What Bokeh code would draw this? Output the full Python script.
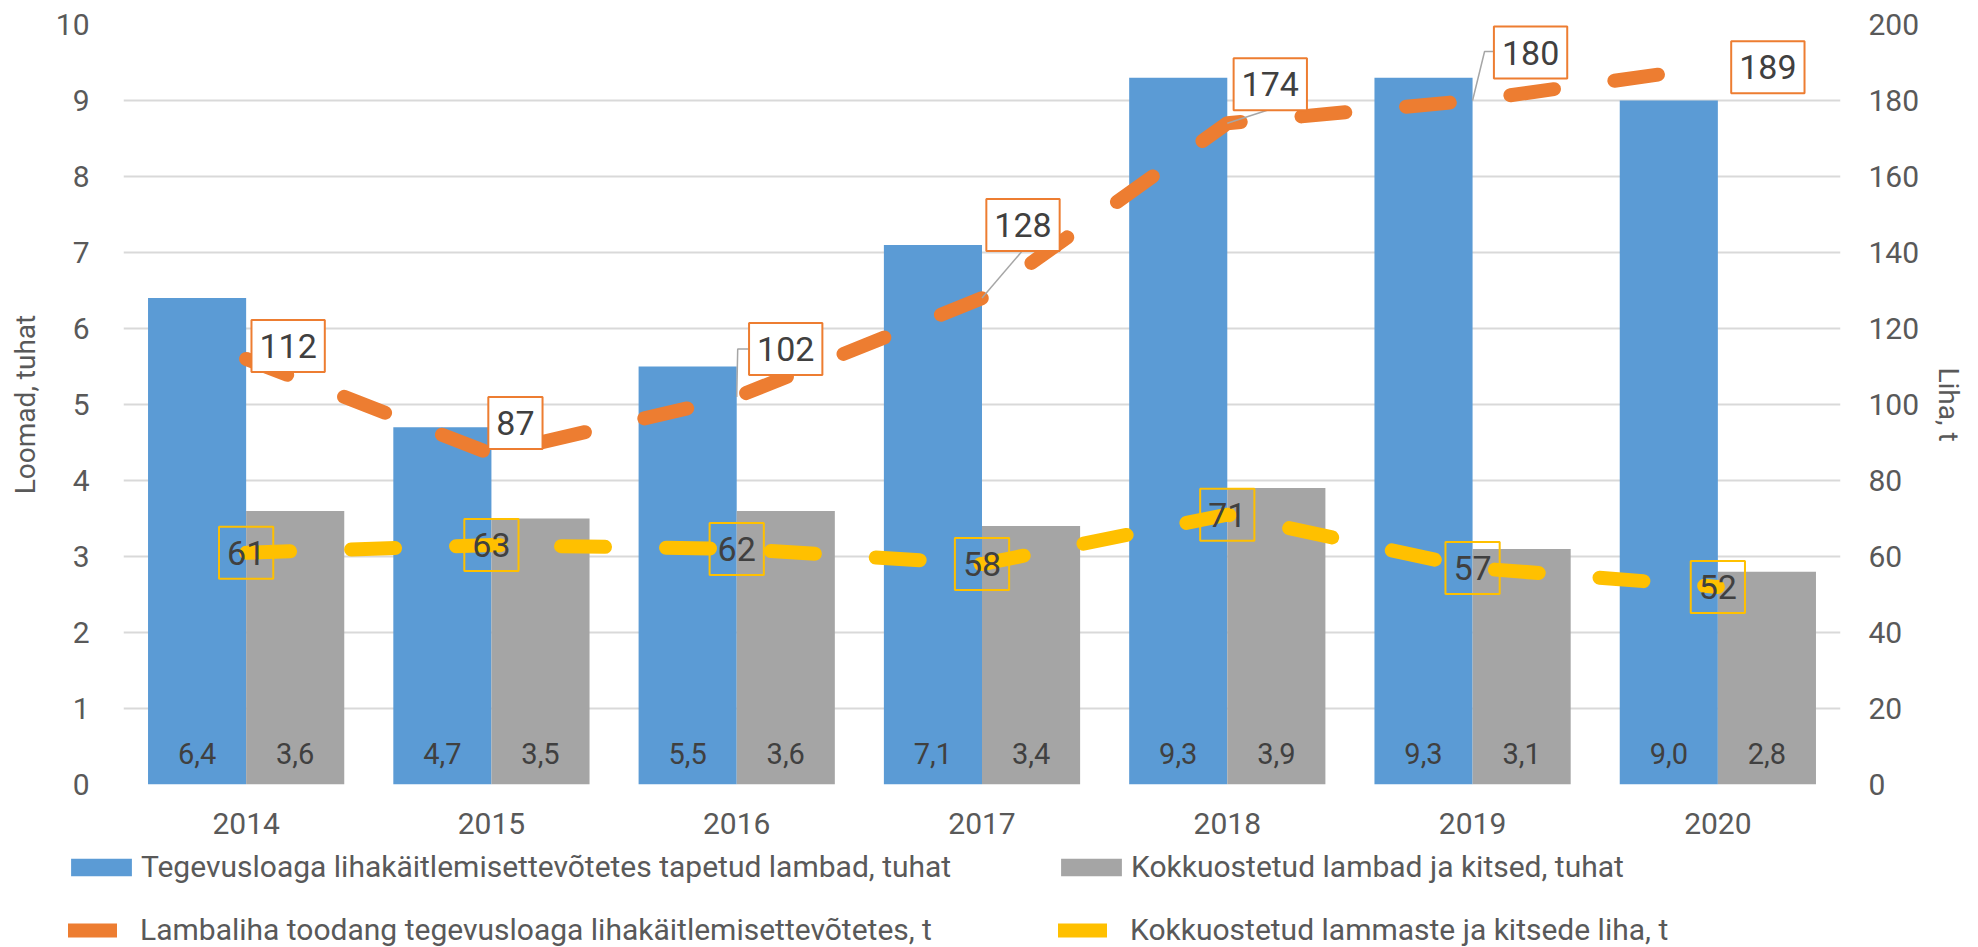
from bokeh.plotting import figure
from bokeh.models import Range1d, LinearAxis, FixedTicker, Legend, LegendItem, ColumnDataSource
from bokeh.transform import dodge
from bokeh.core.properties import value
from bokeh.embed import file_html
from bokeh.resources import INLINE

# ---- data ----
years = ["2014", "2015", "2016", "2017", "2018", "2019", "2020"]
tapetud_lambad = [6.4, 4.7, 5.5, 7.1, 9.3, 9.3, 9.0]          # thousand, left axis
kokkuostetud_lambad = [3.6, 3.5, 3.6, 3.4, 3.9, 3.1, 2.8]     # thousand, left axis
lambaliha_toodang = [112, 87, 102, 128, 174, 180, 189]        # t, right axis
kokkuostetud_liha = [61, 63, 62, 58, 71, 57, 52]              # t, right axis

left_ticks = list(range(0, 11))
right_ticks = list(range(0, 201, 20))

legend_labels = [
    "Tegevusloaga lihakäitlemisettevõtetes tapetud lambad, tuhat",
    "Kokkuostetud lambad ja kitsed, tuhat",
    "Lambaliha toodang tegevusloaga lihakäitlemisettevõtetes, t",
    "Kokkuostetud lammaste ja kitsede liha, t",
]

# ---- style ----
FONT = "Roboto"
TXT = "#595959"
LBL = "#404040"
BLUE = "#5B9BD5"
GRAY = "#A5A5A5"
ORANGE = "#ED7D31"
YELLOW = "#FFC000"
GRID = "#D9D9D9"

PX_PER_X = 1717 / 7.0
PX_PER_T = 760 / 200.0

# label offsets (screen px, + right / + down) for the orange labels
orange_dx = [42, 24, 49, 41, 43, 58, 50]
orange_dy = [-13, -31, -48, -73, -39, -48, 1]
# leader lines (index, list of px offsets from the point)
leaders = [
    (2, [(0, 0), (1, -48), (12, -48)]),
    (3, [(0, 0), (41, -48)]),
    (4, [(0, 0), (43, -14)]),
    (5, [(0, 0), (12, -49), (22, -49)]),
]

xs = list(range(len(years)))

src = ColumnDataSource(dict(
    x=xs,
    tap=tapetud_lambad,
    kok=kokkuostetud_lambad,
    tap_txt=[f"{v:.1f}".replace(".", ",") for v in tapetud_lambad],
    kok_txt=[f"{v:.1f}".replace(".", ",") for v in kokkuostetud_lambad],
    zero=[0] * len(xs),
    liha=lambaliha_toodang,
    liha_txt=[str(v) for v in lambaliha_toodang],
    kliha=kokkuostetud_liha,
    kliha_txt=[str(v) for v in kokkuostetud_liha],
    odx=orange_dx,
    ody=orange_dy,
))

p = figure(width=1978, height=848,
           x_range=Range1d(-0.5, len(years) - 0.5), y_range=Range1d(0, 10),
           output_backend="svg", toolbar_location=None,
           min_border_left=123, min_border_right=138,
           min_border_top=24, min_border_bottom=64)
p.outline_line_color = None
p.background_fill_color = "white"
p.extra_y_ranges = {"liha": Range1d(0, 200)}

# grid
p.xgrid.grid_line_color = None
p.ygrid.grid_line_color = GRID
p.ygrid.grid_line_width = 2
p.ygrid.ticker = FixedTicker(ticks=left_ticks)

# bars
bar_kw = dict(width=0.4, line_color=None)
b1 = p.vbar(x=dodge("x", -0.2), top="tap", source=src, fill_color=BLUE, **bar_kw)
b2 = p.vbar(x=dodge("x", 0.2), top="kok", source=src, fill_color=GRAY, **bar_kw)

# bar value labels
for col, off in (("tap_txt", -0.2), ("kok_txt", 0.2)):
    p.text(x=dodge("x", off), y="zero", text=col, source=src,
           text_font=value(FONT), text_font_size="29px", text_color=LBL,
           text_align="center", text_baseline="middle", y_offset=-31)

# lines
line_kw = dict(line_width=14, line_dash="44 61", line_cap="round", line_join="round")
l1 = p.line(x="x", y="liha", source=src, y_range_name="liha", line_color=ORANGE, **line_kw)
l2 = p.line(x="x", y="kliha", source=src, y_range_name="liha", line_color=YELLOW, **line_kw)

# leader lines
lx, ly = [], []
for i, pts in leaders:
    lx.append([i + dx / PX_PER_X for dx, dy in pts])
    ly.append([lambaliha_toodang[i] - dy / PX_PER_T for dx, dy in pts])
p.multi_line(xs=lx, ys=ly, y_range_name="liha", line_color="#A6A6A6", line_width=1.5)

# data labels
p.text(x="x", y="liha", text="liha_txt", source=src, y_range_name="liha",
       x_offset="odx", y_offset="ody",
       text_font=value(FONT), text_font_size="34px", text_color=LBL,
       text_align="center", text_baseline="middle",
       background_fill_color="white", border_line_color=ORANGE,
       border_line_width=2, padding=(8, 14))
p.text(x="x", y="kliha", text="kliha_txt", source=src, y_range_name="liha",
       text_font=value(FONT), text_font_size="34px", text_color=LBL,
       text_align="center", text_baseline="middle",
       border_line_color=YELLOW, border_line_width=2, padding=(8, 14))

# axes
def style_axis(ax):
    ax.axis_line_color = None
    ax.major_tick_line_color = None
    ax.minor_tick_line_color = None
    ax.major_tick_out = 0
    ax.major_tick_in = 0
    ax.major_label_text_font = FONT
    ax.major_label_text_font_size = "30px"
    ax.major_label_text_color = TXT
    ax.axis_label_text_font = FONT
    ax.axis_label_text_font_size = "28px"
    ax.axis_label_text_font_style = "normal"
    ax.axis_label_text_color = TXT

xa = p.xaxis[0]
style_axis(xa)
xa.ticker = FixedTicker(ticks=xs)
xa.major_label_overrides = {i: y for i, y in enumerate(years)}
xa.major_label_standoff = 28

ya = p.yaxis[0]
style_axis(ya)
ya.ticker = FixedTicker(ticks=left_ticks)
ya.major_label_standoff = 34
ya.axis_label = "Loomad, tuhat"
ya.axis_label_standoff = 11

ra = LinearAxis(y_range_name="liha", ticker=FixedTicker(ticks=right_ticks))
style_axis(ra)
ra.major_label_standoff = 28
ra.axis_label = "Liha, t"
ra.axis_label_standoff = 10
p.add_layout(ra, "right")

# ---- legend strip below the chart (separate root, frame = whole strip) ----
LEG_H = 99
lf = figure(width=1978, height=LEG_H, x_range=Range1d(0, 1), y_range=Range1d(0, 1),
            output_backend="svg", toolbar_location=None,
            x_axis_type=None, y_axis_type=None, min_border=0)
lf.outline_line_color = None
lf.grid.grid_line_color = None

# swatch renderers for the legend (their single point lies outside the strip's range)
lb1 = lf.vbar(x=[-9], top=[-9], fill_color=BLUE, **bar_kw)
lb2 = lf.vbar(x=[-9], top=[-9], fill_color=GRAY, **bar_kw)
sw_kw = dict(line_width=14, line_cap="round", line_join="round")
ll1 = lf.line(x=[-9, -8], y=[-9, -9], line_color=ORANGE, **sw_kw)
ll2 = lf.line(x=[-9, -8], y=[-9, -9], line_color=YELLOW, **sw_kw)

def mk_legend(items, gw, gh, standoff, spacing, loc):
    lg = Legend(items=items, orientation="horizontal", location=loc,
                glyph_width=gw, glyph_height=gh, label_standoff=standoff,
                label_width=880, spacing=spacing, padding=0, margin=0,
                border_line_color=None, background_fill_alpha=0,
                label_text_font=FONT, label_text_font_size="30px",
                label_text_color=TXT)
    lf.add_layout(lg)
    return lg

mk_legend([LegendItem(label=legend_labels[0], renderers=[lb1]),
           LegendItem(label=legend_labels[1], renderers=[lb2])],
          76, 22, 2, 32, (63, 63))
mk_legend([LegendItem(label=legend_labels[2], renderers=[ll1]),
           LegendItem(label=legend_labels[3], renderers=[ll2])],
          49, 22, 23, 38, (68, 0))

open("out.html", "w").write(file_html([p, lf], INLINE))
